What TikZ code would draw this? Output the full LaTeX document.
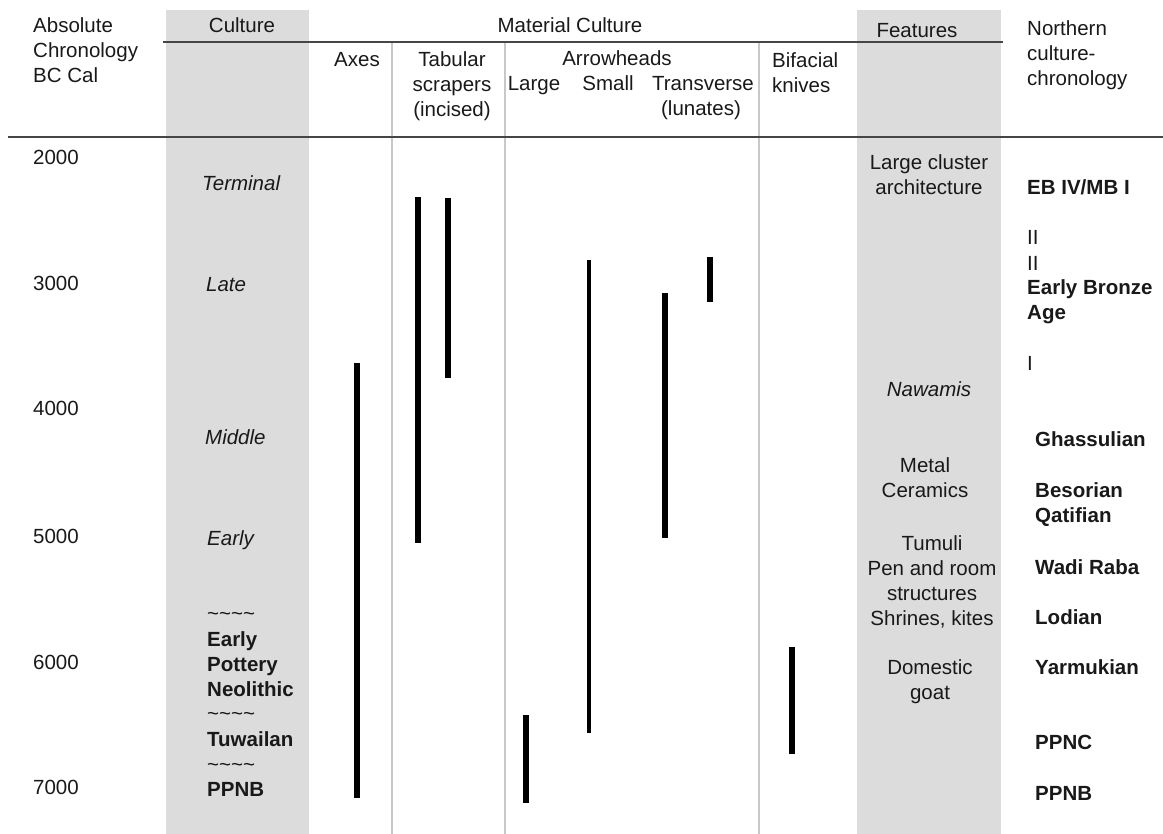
\documentclass[tikz,border=0pt]{standalone}
\usepackage{fontspec}
\setmainfont{Liberation Sans}
\usepackage{tikz}
\usetikzlibrary{positioning}
\definecolor{colfill}{RGB}{220,220,220}
\definecolor{sepgray}{RGB}{200,200,200}
\definecolor{rulegray}{RGB}{70,70,70}
\definecolor{inkgray}{RGB}{25,25,25}
\newcommand{\chartfont}{\fontsize{20.5}{25}\selectfont}
\tikzset{
  every node/.style={
    font=\chartfont,
    text=inkgray,
    inner sep=0pt
  },
  oneline/.style={
    text height=15pt,
    text depth=0pt
  },
  lefttext/.style={oneline, anchor=west},
  midtext/.style={oneline, anchor=center},
  stackleft/.style={align=left, anchor=north west},
  stackmid/.style={align=center, anchor=north},
  period/.style={lefttext, font=\chartfont\itshape},
  phase/.style={lefttext, font=\chartfont\bfseries},
  northern/.style={lefttext, font=\chartfont\bfseries},
  colband/.style={fill=colfill},
  sepline/.style={draw=sepgray, line width=2.5pt},
  rule/.style={draw=rulegray, line width=2.5pt},
  bar/.style={draw=black, line width=6pt},
  thinbar/.style={draw=black, line width=4pt}
}

\begin{document}
\begin{tikzpicture}[x=1pt,y=-1pt]
\useasboundingbox (0,0) rectangle (1163,834);

\path[colband] (166,10) rectangle (309,834);
\path[colband] (857,10) rectangle (1001,834);

\draw[sepline] (392,42) -- (392,834);
\draw[sepline] (505,42) -- (505,834);
\draw[sepline] (759,42) -- (759,834);
\draw[rule] (163,42) -- (1003,42);
\draw[rule] (8,137) -- (1163,137);

\node[stackleft] (chron) at (33,17.5) {Absolute\\Chronology\\BC Cal};
\node[midtext] (culture) at (242,25) {Culture};
\node[midtext] (material) at (570,25) {Material Culture};
\node[midtext] (features) at (917,30) {Features};
\node[stackleft] (northhead) at (1027,20.5) {Northern\\culture-\\chronology};

\node[midtext] (axes) at (357,59) {Axes};
\node[stackmid] (tabular) at (452,51.5) {Tabular\\scrapers\\(incised)};
\node[midtext] (arrow) at (617,58) {Arrowheads};
\node[midtext] (large) at (534,83) {Large};
\node[midtext] (small) at (608,83) {Small};
\node[midtext] (transverse) at (703,83) {Transverse};
\node[midtext] (lunates) at (701,108) {(lunates)};
\node[stackleft] (bifacial) at (772,52.5) {Bifacial\\knives};

\foreach \yr/\yy in {2000/157,3000/283,4000/408,5000/536,6000/662,7000/787}
  \node[lefttext] (yr\yr) at (33,\yy) {\yr};

\node[period] (terminal) at (202,183) {Terminal};
\node[period] (late) at (206,284) {Late};
\node[period] (middle) at (205,437) {Middle};
\node[period] (early) at (207,538) {Early};
\node[lefttext] (tilde1) at (207,613) {\textasciitilde\textasciitilde\textasciitilde\textasciitilde};
\node[stackleft, font=\chartfont\bfseries] (epn) at (207,631.5) {Early\\Pottery\\Neolithic};
\node[lefttext] (tilde2) at (207,713) {\textasciitilde\textasciitilde\textasciitilde\textasciitilde};
\node[phase] (tuwailan) at (207,739) {Tuwailan};
\node[lefttext] (tilde3) at (207,764) {\textasciitilde\textasciitilde\textasciitilde\textasciitilde};
\node[phase] (ppnbcult) at (207,789) {PPNB};

\draw[bar] (357,363) -- (357,798);
\draw[bar] (418,197) -- (418,543);
\draw[bar] (448,198) -- (448,378);
\draw[bar] (526,715) -- (526,803);
\draw[thinbar] (589,260) -- (589,733);
\draw[bar] (665,293) -- (665,538);
\draw[bar] (710,257) -- (710,302);
\draw[bar] (792,647) -- (792,754);

\node[stackmid] (cluster) at (929,154.5) {Large cluster\\architecture};
\node[midtext, font=\chartfont\itshape] (nawamis) at (929,389) {Nawamis};
\node[stackmid] (metal) at (925,457.5) {Metal\\Ceramics};
\node[stackmid] (tumuli) at (932,535.5) {Tumuli\\Pen and room\\structures\\Shrines, kites};
\node[stackmid] (goat) at (930,659.5) {Domestic\\goat};

\node[northern] (ebiv) at (1027,187) {EB IV/MB I};
\node[lefttext] (ebthree) at (1027,237) {II};
\node[lefttext] (ebtwo) at (1027,263) {II};
\node[stackleft, font=\chartfont\bfseries] (eba) at (1027,279.5) {Early Bronze\\Age};
\node[lefttext] (ebone) at (1027,363) {I};
\node[northern] (ghass) at (1035,439) {Ghassulian};
\node[stackleft, font=\chartfont\bfseries] (beso) at (1035,482.5) {Besorian\\Qatifian};
\node[northern] (wadi) at (1035,567) {Wadi Raba};
\node[northern] (lodian) at (1035,617) {Lodian};
\node[northern] (yarmuk) at (1035,667) {Yarmukian};
\node[northern] (ppnc) at (1035,742) {PPNC};
\node[northern] (ppnb) at (1035,793) {PPNB};

\end{tikzpicture}
\end{document}
